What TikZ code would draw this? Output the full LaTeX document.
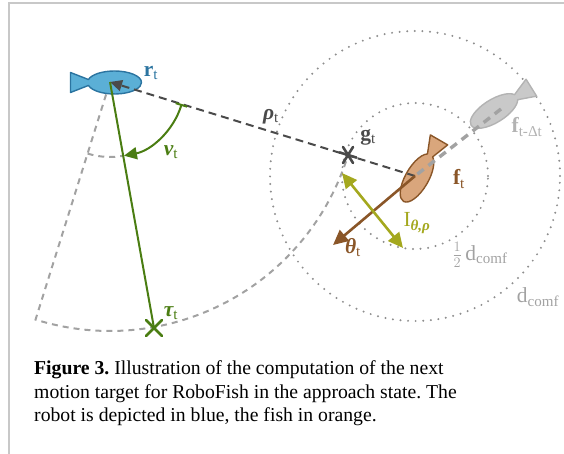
\documentclass[tikz,border=0pt]{standalone}
\usepackage{fontspec}
\setmainfont{Liberation Serif}
\usetikzlibrary{calc}
\usetikzlibrary{arrows.meta}

\definecolor{robotfill}{HTML}{5BAFD6}
\definecolor{robotline}{HTML}{2B74A0}
\definecolor{fishfill}{HTML}{D9A67C}
\definecolor{fishline}{HTML}{8A5628}
\definecolor{ghostfill}{HTML}{C9C9C9}
\definecolor{ghostline}{HTML}{B3B3B3}
\definecolor{darkline}{HTML}{4A4A4A}
\definecolor{turngreen}{HTML}{4A7D12}
\definecolor{olive}{HTML}{A4A81E}
\definecolor{dotgray}{HTML}{8E8E8E}
\definecolor{dashgray}{HTML}{A2A2A2}
\definecolor{framegray}{HTML}{C8C8C8}

% fish outline: ellipse body, tail to the left, head along +x
\newcommand{\drawfish}[3]{%
  \draw[#3, shift={#1}, rotate=#2] (27,0)
    arc[start angle=0, end angle=165, x radius=27, y radius=11.5]
    -- (-44,10) -- (-44,-10) -- (-26.08,-2.98)
    arc[start angle=195, end angle=360, x radius=27, y radius=11.5] -- cycle;}
\newcommand{\sym}[2]{{\bfseries #1}\textsubscript{#2}}

\tikzset{
  lbl/.style={inner sep=0pt, font=\fontsize{21.5}{24}\selectfont},
  captionline/.style={anchor=base west, inner sep=0pt, font=\fontsize{19.7}{23.5}\selectfont\frenchspacing},
  robotfish/.style={fill=robotfill, draw=robotline, line width=1.4pt, line join=round},
  orangefish/.style={fill=fishfill, draw=fishline, line width=1.4pt, line join=round},
  ghostfish/.style={fill=ghostfill, draw=ghostline, line width=1.4pt, line join=round},
  comfort/.style={draw=dotgray, line width=2.2pt, line cap=round, dash pattern=on 0pt off 7.6pt},
  sectorline/.style={draw=dashgray, line width=2pt, dash pattern=on 6pt off 5pt},
  pathline/.style={draw=dashgray, line width=3.4pt, dash pattern=on 8pt off 6pt},
  goalline/.style={draw=darkline, line width=2pt, dash pattern=on 8pt off 5pt},
  crossmark/.style={line width=2.6pt, line cap=round},
}

\begin{document}
\begin{tikzpicture}[x=1pt,y=1pt]
  \useasboundingbox (0,0) rectangle (564,454);
  \draw[framegray, line width=2pt] (8.5,0) -- (8.5,450.5) -- (564,450.5);

  \coordinate (robot) at (110,372);
  \coordinate (goal) at (348,299);
  \coordinate (fish) at (415,278);
  \coordinate (fishold) at (501,345);
  \coordinate (target) at (154,126);
  \coordinate (thetatip) at (333,209);
  \coordinate (Iupper) at (342,281);
  \coordinate (Ilower) at (403,206);
  \coordinate (sectorcorner) at ($(robot)+(-107.4:249)$);

  % comfort zones around the fish
  \draw[comfort] (fish) circle[radius=73];
  \draw[comfort] (fish) circle[radius=145];

  % reachable sector of the robot
  \draw[sectorline] ($(robot)+(-107.4:13)$) -- (sectorcorner)
    arc[start angle=-107.4, end angle=-17.05, radius=249];
  \draw[sectorline] ($(robot)+(-107.4:75)$) arc[start angle=-107.4, end angle=-79.9, radius=75];

  \drawfish{(114.5,371.5)}{0}{robotfish}
  \drawfish{(494,343)}{212}{ghostfish}
  \drawfish{(417,276)}{240}{orangefish}

  \draw[pathline] (fishold) -- (fish);
  \draw[goalline, -{Triangle[length=12pt,width=11pt]}] (fish) -- (robot);
  \draw[turngreen, line width=2pt] (robot) -- (target);
  \draw[turngreen, line width=2pt, {Bar[width=12pt]}-{Triangle[length=13pt,width=12pt]}]
    ($(robot)+(-17.05:75)$) arc[start angle=-17.05, end angle=-79.3, radius=75];
  \draw[fishline, line width=2.6pt, -{Triangle[length=15pt,width=14pt]}] (fish) -- (thetatip);
  \draw[olive, line width=2.6pt, {Triangle[length=15pt,width=14pt]}-{Triangle[length=15pt,width=14pt]}] (Iupper) -- (Ilower);

  % markers
  \draw[darkline, crossmark] ($(goal)+(-5,8)$) -- ($(goal)+(5,-8)$);
  \draw[darkline, crossmark] ($(goal)+(-5,-8)$) -- ($(goal)+(5,8)$);
  \draw[darkline, crossmark] ($(goal)+(-8.5,2.6)$) -- ($(goal)+(8.5,-2.6)$);
  \draw[turngreen, crossmark] ($(target)+(-8,-8)$) -- ($(target)+(8,8)$);
  \draw[turngreen, crossmark] ($(target)+(-8,8)$) -- ($(target)+(8,-8)$);

  \node[lbl, text=robotline] (rlabel) at (151,381) {\sym{r}{t}};
  \node[lbl, text=darkline] (rholabel) at (271,337) {\sym{\itshape ρ}{t}};
  \node[lbl, text=turngreen] (nulabel) at (171,302) {\sym{\itshape ν}{t}};
  \node[lbl, text=turngreen] (taulabel) at (171,141) {\sym{\itshape τ}{t}};
  \node[lbl, text=darkline] (glabel) at (368,317) {\sym{g}{t}};
  \node[lbl, text=fishline] (flabel) at (459,275) {\sym{f}{t}};
  \node[lbl, text=ghostline] (foldlabel) at (527,327) {\sym{f}{t-Δt}};
  \node[lbl, text=fishline] (thetalabel) at (353,206) {\sym{\itshape θ}{t}};
  \node[lbl, text=olive] (Ilabel) at (417,231) {I\textsubscript{\bfseries\itshape θ,ρ}};
  \node[lbl, text=dashgray] (halflabel) at (480,199) {$\frac{1}{2}$\,d\textsubscript{comf}};
  \node[lbl, text=dashgray] (dlabel) at (538,157) {d\textsubscript{comf}};

  % caption, one node per line
  \node[captionline] (caption1) at (34,79)
    {\textbf{Figure 3.} Illustration of the computation of the next};
  \node[captionline] (caption2) at (34,55.5)
    {motion target for RoboFish in the approach state. The};
  \node[captionline] (caption3) at (34,32)
    {robot is depicted in blue, the fish in orange.};
\end{tikzpicture}
\end{document}
